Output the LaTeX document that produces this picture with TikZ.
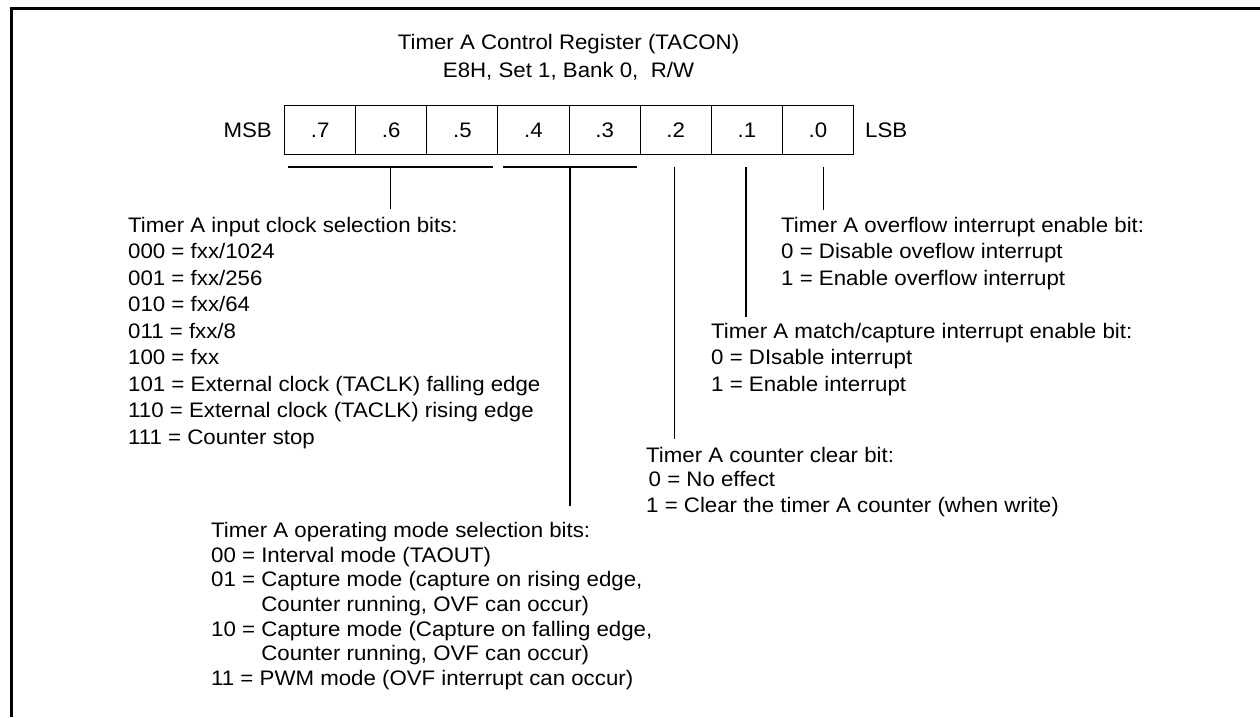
\documentclass[tikz,border=0pt]{standalone}
\usepackage{fontspec}
\setmainfont[FakeStretch=1.06]{Liberation Sans}
\begin{document}
\begin{tikzpicture}[x=1pt,y=-1pt,
  txt/.style={anchor=base west,inner sep=0pt,font=\fontsize{21}{25}\selectfont},
  ctxt/.style={anchor=base,inner sep=0pt,font=\fontsize{21}{25}\selectfont},
  cell/.style={draw,line width=1.1pt,minimum width=71.125pt,minimum height=49pt,inner sep=0pt,anchor=north west,font=\fontsize{21}{25}\selectfont},
  conn/.style={line width=1.2pt},
  frameline/.style={line width=3pt}]
\useasboundingbox (0,0) rectangle (1260,717);
% frame
\coordinate (fbl) at (11,717);
\coordinate (ftl) at (11,9);
\coordinate (ftr) at (1260,9);
\draw[frameline] (fbl) -- (ftl) -- (ftr);
% title
\node[ctxt] (t1) at (568.5,49.5) {Timer A Control Register (TACON)};
\node[ctxt] (t2) at (568.5,77.5) {E8H, Set 1, Bank 0, \ R/W};
% register cells
\node[cell] (c7) at (284,105) {.7};
\node[cell] (c6) at (355.125,105) {.6};
\node[cell] (c5) at (426.25,105) {.5};
\node[cell] (c4) at (497.375,105) {.4};
\node[cell] (c3) at (568.5,105) {.3};
\node[cell] (c2) at (639.625,105) {.2};
\node[cell] (c1) at (710.75,105) {.1};
\node[cell] (c0) at (781.875,105) {.0};
\node[txt,anchor=base east] (msb) at (272,137) {MSB};
\node[txt] (lsb) at (865,137) {LSB};
% bars and leader lines
\coordinate (b1a) at (288,167);
\coordinate (b1b) at (493,167);
\coordinate (b2a) at (503,167);
\coordinate (b2b) at (637,167);
\draw[conn] (b1a) -- (b1b);
\draw[conn] (b2a) -- (b2b);
\coordinate (v1t) at (390.7,167);  \coordinate (v1b) at (390.7,209);
\coordinate (v2t) at (570,167);    \coordinate (v2b) at (570,506);
\coordinate (v3t) at (674.5,167);  \coordinate (v3b) at (674.5,439);
\coordinate (v4t) at (746,167);    \coordinate (v4b) at (746,317);
\coordinate (v5t) at (823.5,167);  \coordinate (v5b) at (823.5,209.5);
\draw[conn] (v1t) -- (v1b);
\draw[conn] (v2t) -- (v2b);
\draw[conn] (v3t) -- (v3b);
\draw[conn] (v4t) -- (v4b);
\draw[conn] (v5t) -- (v5b);
% input clock selection
\node[txt] (ck0) at (128,232) {Timer A input clock selection bits:};
\node[txt] (ck1) at (128,258.5) {000 = fxx/1024};
\node[txt] (ck2) at (128,285) {001 = fxx/256};
\node[txt] (ck3) at (128,311.5) {010 = fxx/64};
\node[txt] (ck4) at (128,338) {011 = fxx/8};
\node[txt] (ck5) at (128,364.5) {100 = fxx};
\node[txt] (ck6) at (128,391) {101 = External clock (TACLK) falling edge};
\node[txt] (ck7) at (128,417.5) {110 = External clock (TACLK) rising edge};
\node[txt] (ck8) at (128,444) {111 = Counter stop};
% overflow interrupt
\node[txt] (ov0) at (781,232) {Timer A overflow interrupt enable bit:};
\node[txt] (ov1) at (781,258.5) {0 = Disable oveflow interrupt};
\node[txt] (ov2) at (781,285) {1 = Enable overflow interrupt};
% match/capture
\node[txt] (mc0) at (711,338) {Timer A match/capture interrupt enable bit:};
\node[txt] (mc1) at (711,364.5) {0 = DIsable interrupt};
\node[txt] (mc2) at (711,391) {1 = Enable interrupt};
% counter clear
\node[txt] (cc0) at (646,462.5) {Timer A counter clear bit:};
\node[txt] (cc1) at (648.5,486.5) {0 = No effect};
\node[txt] (cc2) at (646,512.5) {1 = Clear the timer A counter (when write)};
% operating mode
\node[txt] (om0) at (211,537.5) {Timer A operating mode selection bits:};
\node[txt] (om1) at (211,562.2) {00 = Interval mode (TAOUT)};
\node[txt] (om2) at (211,586.8) {01 = Capture mode (capture on rising edge,};
\node[txt] (om3) at (211,611.5) {\phantom{01 =\ }Counter running, OVF can occur)};
\node[txt] (om4) at (211,636.2) {10 = Capture mode (Capture on falling edge,};
\node[txt] (om5) at (211,660.8) {\phantom{10 =\ }Counter running, OVF can occur)};
\node[txt] (om6) at (211,685.5) {11 = PWM mode (OVF interrupt can occur)};
\end{tikzpicture}
\end{document}
